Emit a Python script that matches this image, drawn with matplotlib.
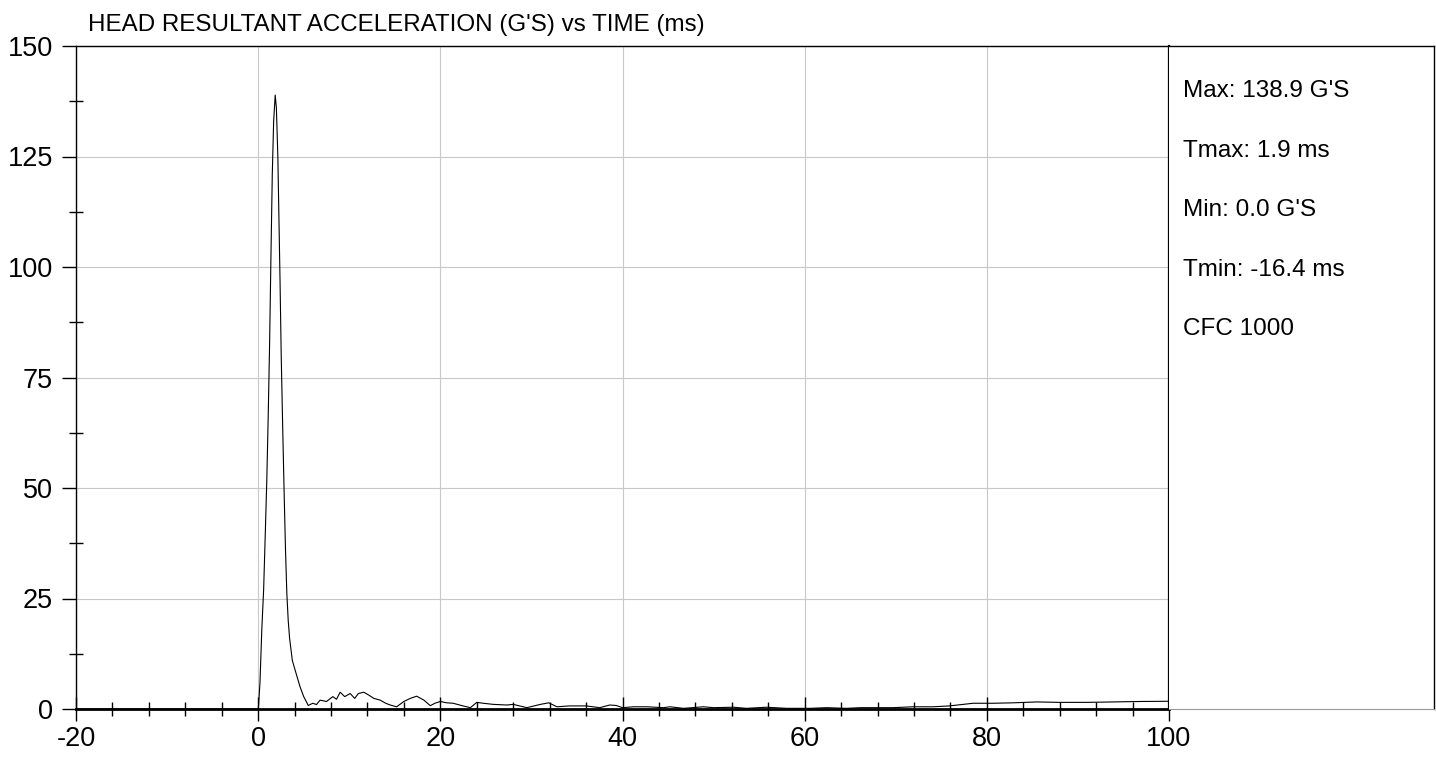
import matplotlib
matplotlib.use("Agg")
import matplotlib.pyplot as plt
from matplotlib.ticker import MultipleLocator

plt.rcParams['font.family'] = ['Liberation Sans', 'DejaVu Sans']
plt.rcParams['axes.unicode_minus'] = False

# time (ms) and head resultant acceleration (G's)
t = [-20, 0, 0.05, 0.2, 0.4, 0.6, 0.8, 0.95, 1.1, 1.25, 1.4, 1.55, 1.7, 1.87,
     2.0, 2.16, 2.28, 2.4, 2.53, 2.7, 2.85, 3.0, 3.15, 3.3, 3.45, 3.75, 4.1, 4.6,
     5.0, 5.5, 6.0, 6.4, 6.8, 7.5, 8.2, 8.6, 9.0, 9.5, 10.1, 10.6,
     11.0, 11.6, 12.1, 12.7, 13.4, 14.0, 14.5, 15.2, 16.0, 16.7, 17.4, 18.2, 18.9,
     19.4, 20.0, 20.7, 21.4, 22.4, 23.3, 24.0, 24.7, 25.8, 27.3, 28.0, 29.5, 31.0,
     31.9, 32.8, 34.2, 36.0, 37.5, 38.6, 39.3, 40.0, 41.2, 42.7, 44.5, 45.2, 46.7,
     48.9, 50.0, 52.2, 53.6, 55.8, 58.0, 60.6, 62.4, 64.6, 66.1, 67.9, 69.7, 71.9,
     74.1, 75.9, 78.5, 80.7, 82.9, 85.5, 88.0, 91.0, 93.9, 96.8, 100.0]
acc = [0, 0, 1, 6, 18, 27, 41, 52, 66, 82, 102, 121, 133, 138.9,
       136, 125, 111, 97, 80, 63, 49, 36, 26, 20, 16, 11, 8.5, 5,
       2.8, 0.8, 1.3, 1.0, 2.0, 1.7, 2.8, 2.2, 3.8, 2.8, 3.5, 2.4,
       3.5, 3.8, 3.2, 2.4, 2.0, 1.3, 0.9, 0.5, 1.7, 2.4, 2.9, 2.0, 0.75,
       1.3, 1.7, 1.4, 1.3, 0.75, 0.3, 1.5, 1.3, 1.05, 0.9, 1.05, 0.3, 1.05,
       1.4, 0.5, 0.7, 0.7, 0.3, 0.9, 0.8, 0.3, 0.5, 0.5, 0.3, 0.5, 0.15,
       0.5, 0.3, 0.4, 0.15, 0.4, 0.15, 0.15, 0.3, 0.15, 0.3, 0.3, 0.3, 0.5,
       0.5, 0.7, 1.3, 1.3, 1.4, 1.6, 1.5, 1.5, 1.6, 1.7, 1.75]

stats = ["Max: 138.9 G'S", "Tmax: 1.9 ms", "Min: 0.0 G'S", "Tmin: -16.4 ms", "CFC 1000"]
title = "HEAD RESULTANT ACCELERATION (G'S) vs TIME (ms)"

W, H = 1436, 759
fig = plt.figure(figsize=(W / 100, H / 100), dpi=100)

x0, x1, ytop, ybot = 76, 1169, 46, 709
ax = fig.add_axes([x0 / W, 1 - ybot / H, (x1 - x0) / W, (ybot - ytop) / H])
ax.plot(t, acc, color='black', lw=0.8)
ax.set_xlim(-20, 100)
ax.set_ylim(0, 150)
ax.xaxis.set_major_locator(MultipleLocator(20))
ax.xaxis.set_minor_locator(MultipleLocator(4))
ax.yaxis.set_major_locator(MultipleLocator(25))
ax.yaxis.set_minor_locator(MultipleLocator(12.5))
ax.grid(True, which='major', color='#c8c8c8', lw=0.8)
ax.tick_params(axis='x', which='major', direction='inout', length=17, width=1,
               labelsize=19.5, pad=4)
ax.tick_params(axis='x', which='minor', direction='inout', length=10, width=1)
ax.tick_params(axis='y', which='major', direction='out', length=10, width=1,
               labelsize=19.5, pad=6.5)
ax.tick_params(axis='y', which='minor', direction='inout', length=10, width=1)
ax.spines['bottom'].set_linewidth(2)
ax.spines['left'].set_linewidth(1)
ax.spines['top'].set_linewidth(1)
ax.spines['right'].set_linewidth(1.6)

fig.text(88 / W, 1 - 31 / H, title, fontsize=17.4, va='baseline', ha='left')

px1 = 1434
pax = fig.add_axes([x1 / W, 1 - ybot / H, (px1 - x1) / W, (ybot - ytop) / H])
pax.set_xticks([])
pax.set_yticks([])
for s in ['top', 'right']:
    pax.spines[s].set_linewidth(1)
pax.spines['bottom'].set_color('#999999')
pax.spines['left'].set_visible(False)
baselines = [97, 157, 216, 276, 335]
for s, b in zip(stats, baselines):
    fig.text(1183 / W, 1 - b / H, s, fontsize=17.5, va='baseline', ha='left')

fig.savefig('out.png', dpi=100)
